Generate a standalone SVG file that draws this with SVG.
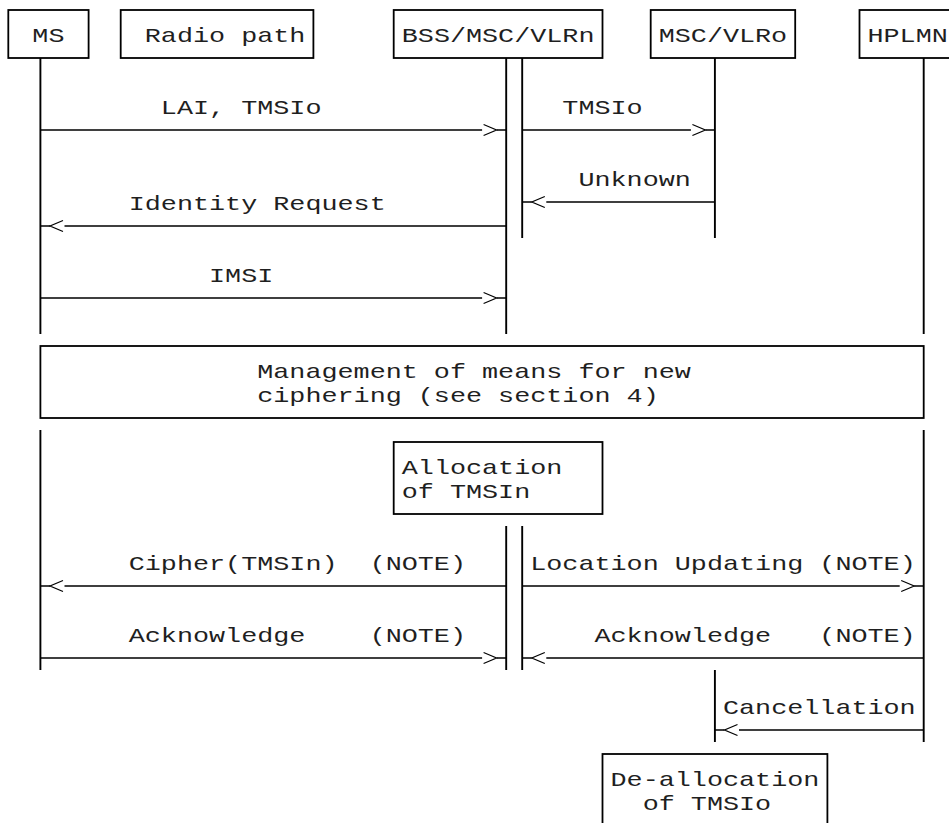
<svg xmlns="http://www.w3.org/2000/svg" xmlns:xlink="http://www.w3.org/1999/xlink" width="949" height="823" viewBox="0 0 949 823">
<style>
text{font-family:"Liberation Mono","DejaVu Sans Mono",monospace;font-size:21px;fill:#1f1f1f;white-space:pre}
.box{fill:none;stroke:#000;stroke-width:1.8}
.life{fill:none;stroke:#000;stroke-width:1.9}
.msg{fill:none;stroke:#000;stroke-width:1.7}
.head{fill:none;stroke:#000;stroke-width:1.2}
</style>
<defs>
<path id="gt" class="head" d="M-6.5,-5.5 L6.5,0 L-6.5,5.5"/>
<path id="lt" class="head" d="M6.5,-5.5 L-6.5,0 L6.5,5.5"/>
</defs>
<rect width="949" height="823" fill="#fff"/>

<g id="MS"><rect class="box" x="8.3" y="10" width="80.3" height="48"/><text x="32.39" y="41.5" textLength="32.12" lengthAdjust="spacingAndGlyphs">MS</text></g>
<g id="RadioPath"><rect class="box" x="120.7" y="10" width="192.7" height="48"/><text x="144.81" y="41.5" textLength="160.6" lengthAdjust="spacingAndGlyphs">Radio path</text></g>
<g id="BSS"><rect class="box" x="393.7" y="10" width="208.8" height="48"/><text x="401.77" y="41.5" textLength="192.72" lengthAdjust="spacingAndGlyphs">BSS/MSC/VLRn</text></g>
<g id="MSCVLRo"><rect class="box" x="650.7" y="10" width="144.5" height="48"/><text x="658.73" y="41.5" textLength="128.48" lengthAdjust="spacingAndGlyphs">MSC/VLRo</text></g>
<g id="HPLMN"><rect class="box" x="859.5" y="10" width="96.3" height="48"/><text x="867.51" y="41.5" textLength="80.3" lengthAdjust="spacingAndGlyphs">HPLMN</text></g>
<g id="Management"><rect class="box" x="40.4" y="346" width="883.3" height="72"/><text x="257.23" y="377.5" textLength="433.62" lengthAdjust="spacingAndGlyphs">Management of means for new</text><text x="257.23" y="401.5" textLength="401.5" lengthAdjust="spacingAndGlyphs">ciphering (see section 4)</text></g>
<g id="Allocation"><rect class="box" x="393.7" y="442" width="208.8" height="72"/><text x="401.77" y="473.5" textLength="160.6" lengthAdjust="spacingAndGlyphs">Allocation</text><text x="401.77" y="497.5" textLength="128.48" lengthAdjust="spacingAndGlyphs">of TMSIn</text></g>
<g id="Deallocation"><rect class="box" x="602.5" y="754" width="224.9" height="72"/><text x="610.55" y="785.5" textLength="208.78" lengthAdjust="spacingAndGlyphs">De-allocation</text><text x="642.67" y="809.5" textLength="128.48" lengthAdjust="spacingAndGlyphs">of TMSIo</text></g>

<g id="connectors">
<path class="life" d="M40.4,58 V334 M40.4,430 V670 M506.2,58 V334 M506.2,526 V670 M522.2,58 V238 M522.2,526 V670 M714.9,58 V238 M714.9,670 V742 M923.7,58 V334 M923.7,430 V742"/>
<path class="msg" d="M40.4,130 H482.1 M496.6,130 H506.2"/><use xlink:href="#gt" x="490.1" y="130"/>
<path class="msg" d="M522.2,130 H690.9 M705.4,130 H714.9"/><use xlink:href="#gt" x="698.9" y="130"/>
<path class="msg" d="M714.9,202 H546.3 M531.8,202 H522.2"/><use xlink:href="#lt" x="538.3" y="202"/>
<path class="msg" d="M506.2,226 H64.5 M50,226 H40.4"/><use xlink:href="#lt" x="56.5" y="226"/>
<path class="msg" d="M40.4,298 H482.1 M496.6,298 H506.2"/><use xlink:href="#gt" x="490.1" y="298"/>
<path class="msg" d="M506.2,586 H64.5 M50,586 H40.4"/><use xlink:href="#lt" x="56.5" y="586"/>
<path class="msg" d="M522.2,586 H899.7 M914.2,586 H923.7"/><use xlink:href="#gt" x="907.7" y="586"/>
<path class="msg" d="M40.4,658 H482.1 M496.6,658 H506.2"/><use xlink:href="#gt" x="490.1" y="658"/>
<path class="msg" d="M923.7,658 H546.3 M531.8,658 H522.2"/><use xlink:href="#lt" x="538.3" y="658"/>
<path class="msg" d="M923.7,730 H739 M724.5,730 H714.9"/><use xlink:href="#lt" x="731" y="730"/>
<text x="160.87" y="113.5" textLength="160.6" lengthAdjust="spacingAndGlyphs">LAI, TMSIo</text>
<text x="562.37" y="113.5" textLength="80.3" lengthAdjust="spacingAndGlyphs">TMSIo</text>
<text x="578.43" y="185.5" textLength="112.42" lengthAdjust="spacingAndGlyphs">Unknown</text>
<text x="128.75" y="209.5" textLength="256.96" lengthAdjust="spacingAndGlyphs">Identity Request</text>
<text x="209.05" y="281.5" textLength="64.24" lengthAdjust="spacingAndGlyphs">IMSI</text>
<text x="128.75" y="569.5" textLength="337.26" lengthAdjust="spacingAndGlyphs">Cipher(TMSIn)  (NOTE)</text>
<text x="530.25" y="569.5" textLength="385.44" lengthAdjust="spacingAndGlyphs">Location Updating (NOTE)</text>
<text x="128.75" y="641.5" textLength="337.26" lengthAdjust="spacingAndGlyphs">Acknowledge    (NOTE)</text>
<text x="594.49" y="641.5" textLength="321.2" lengthAdjust="spacingAndGlyphs">Acknowledge   (NOTE)</text>
<text x="722.97" y="713.5" textLength="192.72" lengthAdjust="spacingAndGlyphs">Cancellation</text>
</g>
</svg>
